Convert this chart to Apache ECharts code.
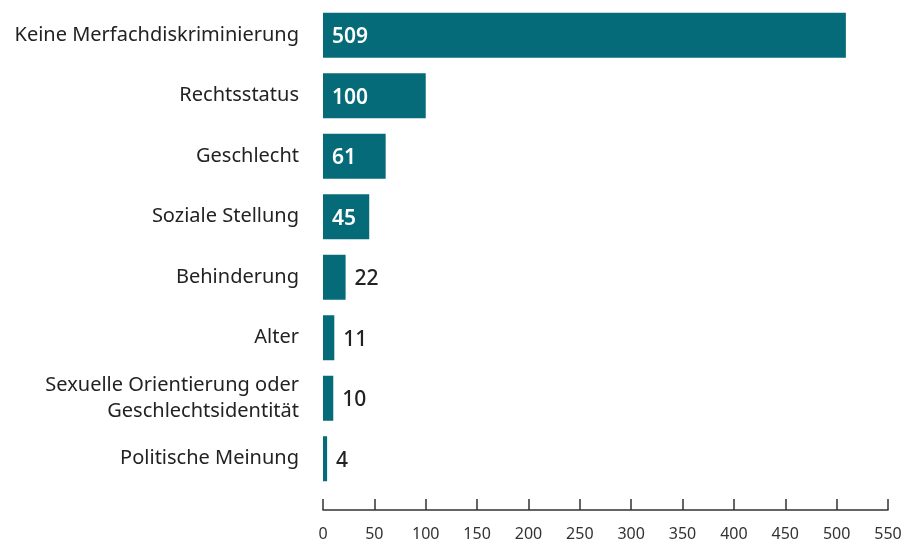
<!DOCTYPE html>
<html><head><meta charset="utf-8">
<script src="https://cdn.jsdelivr.net/npm/echarts@6/dist/echarts.min.js"></script>
<style>html,body{margin:0;padding:0;background:#fff}#c{width:906px;height:541px}</style>
</head><body><div id="c"></div>
<script>
const categories = ["Keine Merfachdiskriminierung","Rechtsstatus","Geschlecht","Soziale Stellung","Behinderung","Alter","Sexuelle Orientierung oder\nGeschlechtsidentität","Politische Meinung"];
const values = [509,100,61,45,22,11,10,4];
const xTicks = [0,50,100,150,200,250,300,350,400,450,500,550];

const FONT = "Noto Sans";
const chart = echarts.init(document.getElementById('c'));
const data = values.map(v => {
  const inside = v >= 40;
  return {
    value: v,
    label: inside ? {position:'insideLeft', distance:9, color:'#fff', fontWeight:'600', offset:[0,2]} :
                    {position:'right', distance:9, color:'#222', fontWeight:'500', offset:[0,2]}
  };
});
chart.setOption({
  animation:false,
  grid:{left:323, right:18, top:5, bottom:52, outerBoundsMode:'none', outerBounds:{left:-200,right:-200,top:-200,bottom:-200}, containLabel:false},
  xAxis:{type:'value', min:xTicks[0], max:xTicks[xTicks.length-1], interval:50, offset:21,
    axisLine:{show:true, lineStyle:{color:'#333', width:1.5}},
    axisTick:{show:true, inside:true, length:11, lineStyle:{color:'#333', width:1.5}},
    axisLabel:{color:'#333', fontSize:16, fontFamily:FONT, margin:16},
    splitLine:{show:false}},
  yAxis:{type:'category', data:categories, inverse:true,
    axisLine:{show:false}, axisTick:{show:false},
    axisLabel:{color:'#222', fontSize:20, fontFamily:FONT, margin:24, lineHeight:26, align:'right'}},
  series:[{type:'bar', data:data, barWidth:45, itemStyle:{color:'#066b78'},
    label:{show:true, fontSize:21, fontFamily:FONT}}]
});
</script></body></html>
